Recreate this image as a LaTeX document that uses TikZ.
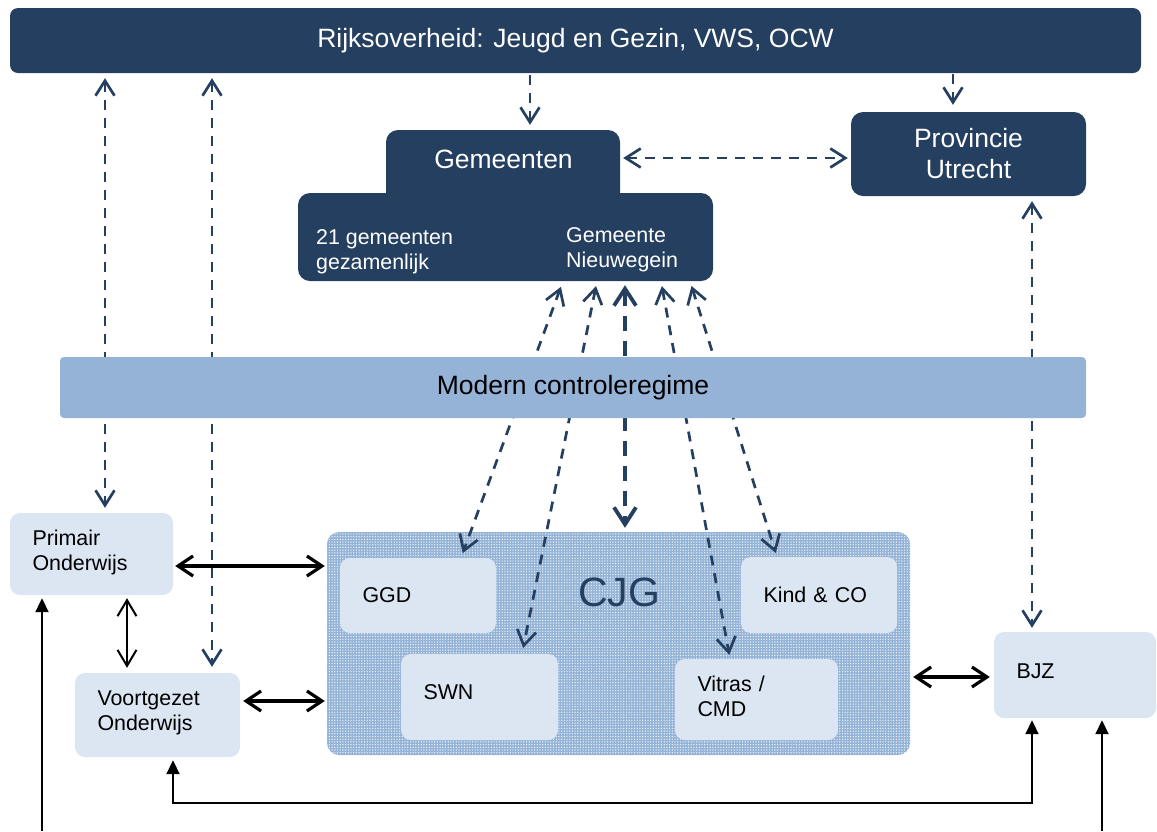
\documentclass[tikz,border=0pt]{standalone}
\usepackage{fontspec}
\setmainfont{Liberation Sans}
\usetikzlibrary{arrows.meta,patterns}
\definecolor{navy}{HTML}{243F60}
\definecolor{midblue}{HTML}{95B3D7}
\definecolor{lightblue}{HTML}{DCE6F2}
\newcommand\bigtxt{\fontsize{26.5}{31}\selectfont}
\newcommand\smalltxt{\fontsize{21.4}{25}\selectfont}
\newcommand\twolines[3]{\raisebox{#3}[\height][\depth]{\begin{tabular}{@{}l@{}}#1\\#2\end{tabular}}}
\pgfdeclarepatternformonly{cjgdots}{\pgfqpoint{-1pt}{-1pt}}{\pgfqpoint{1pt}{1pt}}{\pgfqpoint{2.7pt}{2.7pt}}{\pgfpathcircle{\pgfqpoint{0pt}{0pt}}{0.7pt}\pgfusepath{fill}}
\begin{document}
\begin{tikzpicture}[x=1pt,y=-1pt,
  navybox/.style={fill=navy, text=white, rounded corners=12pt, inner sep=0pt},
  lightbox/.style={fill=lightblue, rounded corners=10pt, inner ysep=0pt, inner xsep=22.5pt, align=left, font=\smalltxt, text=black},
  cjgbox/.style={rounded corners=12pt, inner sep=0pt, preaction={fill=midblue}, pattern=cjgdots, pattern color=white!85!midblue},
  vbarb/.tip={Straight Barb[length=15pt,width=19pt]},
  navydash/.style={draw=navy, line width=2.7pt, dash pattern=on 10pt off 8pt},
  navythick/.style={draw=navy, line width=3.8pt, dash pattern=on 15pt off 10pt},
  blackdbl/.style={draw=black, line width=3.2pt, {Straight Barb[length=15pt,width=20pt]}-{Straight Barb[length=15pt,width=20pt]}},
  blackthin/.style={draw=black, line width=2pt, {Straight Barb[length=16pt,width=19pt]}-{Straight Barb[length=16pt,width=19pt]}},
  solidtri/.style={draw=black, line width=2pt, -{Triangle[length=14pt,width=13pt]}},
  solidtri2/.style={draw=black, line width=2pt, {Triangle[length=14pt,width=13pt]}-{Triangle[length=14pt,width=13pt]}}
]
\useasboundingbox (0,0) rectangle (1157,831);

% boxes
\node[navybox, rounded corners=8pt, minimum width=1131pt, minimum height=65pt, font=\bigtxt] (rijk) at (575.5,40.5) {Rijksoverheid: Jeugd en Gezin, VWS, OCW};
\node[navybox, minimum width=234pt, minimum height=80pt] (gemtop) at (503,170) {};
\node[navybox, minimum width=415pt, minimum height=88pt] (gemlow) at (505.5,237) {};
\node[text=white, font=\bigtxt, inner sep=0pt] (gemtxt) at (503.5,159) {Gemeenten};
\node[text=white, font=\smalltxt, align=left, anchor=west, inner sep=0pt] (gemsamen) at (316,252) {21 gemeenten\\gezamenlijk};
\node[text=white, font=\smalltxt, align=left, anchor=west, inner sep=0pt] (gemnw) at (566,250) {Gemeente\\Nieuwegein};
\node[navybox, minimum width=235pt, minimum height=84pt, font=\bigtxt, align=center] (prov) at (968.5,154) {Provincie\\Utrecht};

\node[cjgbox, minimum width=583pt, minimum height=223pt] (cjg) at (618.5,643.5) {};
\node[text=navy, font=\fontsize{41}{48}\selectfont, inner sep=0pt] (cjglabel) at (619,592) {CJG};

\node[lightbox, text width=118pt, minimum height=82pt] (prim) at (91.5,554) {\twolines{Primair}{Onderwijs}{1pt}};
\node[lightbox, text width=120pt, minimum height=84pt] (voort) at (157.5,715) {\twolines{Voortgezet}{Onderwijs}{2pt}};
\node[lightbox, text width=111pt, minimum height=75pt] (ggd) at (418,595.5) {GGD};
\node[lightbox, text width=112pt, minimum height=86pt, text depth=10pt] (swn) at (479.5,697) {SWN};
\node[lightbox, text width=111pt, minimum height=76pt] (kind) at (819,595) {Kind \& CO};
\node[lightbox, text width=118pt, minimum height=81pt] (vitras) at (756.5,699.5) {\twolines{Vitras /}{CMD}{1pt}};
\node[lightbox, text width=117pt, minimum height=86pt, text depth=8pt] (bjz) at (1075,675) {BJZ};

% helper coordinates
\coordinate (xA) at (105,0);
\coordinate (xB) at (212,0);
\coordinate (xC) at (530,0);
\coordinate (xD) at (953,0);
\coordinate (xE) at (1032,0);
\coordinate (yG) at (0,158);
\coordinate (yP) at (0,566);
\coordinate (yV) at (0,701);
\coordinate (yB) at (0,677);
\coordinate (xPV) at (127,0);
\coordinate (xV2) at (173,0);
\coordinate (yLow) at (0,803);
\coordinate (botL) at (42,831);
\coordinate (botR) at (1102,831);

% dashed navy connectors
\draw[navydash, {vbarb}-{vbarb}, shorten <=5pt, shorten >=5pt] (rijk.south -| xA) -- (prim.north -| xA);
\draw[navydash, {vbarb}-{vbarb}, shorten <=5pt, shorten >=6pt] (rijk.south -| xB) -- (voort.north -| xB);
\draw[navydash, -{vbarb}, shorten <=2pt, shorten >=5pt] (rijk.south -| xC) -- (gemtop.north -| xC);
\draw[navydash, -{vbarb}, shorten <=1pt, shorten >=7pt] (rijk.south -| xD) -- (prov.north -| xD);
\draw[navydash, {vbarb}-{vbarb}, shorten <=3pt, shorten >=3pt] (gemtop.east |- yG) -- (prov.west |- yG);
\draw[navydash, {vbarb}-{vbarb}, shorten <=5pt, shorten >=4pt] (prov.south -| xE) -- (bjz.north -| xE);

\draw[navydash, {vbarb}-{vbarb}, shorten <=6pt, shorten >=5pt] ([xshift=57.5pt]gemlow.south) -- ([xshift=43pt]ggd.north);
\draw[navydash, {vbarb}-{vbarb}, shorten <=5pt, shorten >=6pt] ([xshift=91.5pt]gemlow.south) -- ([xshift=42.5pt]swn.north);
\draw[navythick, {Straight Barb[length=17pt,width=22pt]}-{Straight Barb[length=17pt,width=22pt]}, shorten <=4pt, shorten >=4pt] ([xshift=119.5pt]gemlow.south) -- ([xshift=6.5pt]cjg.north);
\draw[navydash, {vbarb}-{vbarb}, shorten <=5pt, shorten >=4pt] ([xshift=155.5pt]gemlow.south) -- ([xshift=-26.5pt]vitras.north);
\draw[navydash, {vbarb}-{vbarb}, shorten <=5pt, shorten >=4pt] ([xshift=184.5pt]gemlow.south) -- ([xshift=-42pt]kind.north);

% bar drawn over the dashed lines
\node[fill=midblue, rounded corners=4pt, minimum width=1026pt, minimum height=61pt, font=\bigtxt, inner sep=0pt] (mcr) at (573,387.5) {Modern controleregime};

% black connectors
\draw[blackdbl, shorten <=2pt, shorten >=2pt] (prim.east |- yP) -- (cjg.west |- yP);
\draw[blackdbl, shorten <=3pt, shorten >=2pt] (voort.east |- yV) -- (cjg.west |- yV);
\draw[blackthin, shorten <=3pt, shorten >=5pt] (prim.south -| xPV) -- (voort.north -| xPV);
\draw[blackdbl, shorten <=3pt, shorten >=4pt] (cjg.east |- yB) -- (bjz.west |- yB);
\draw[solidtri, shorten >=3pt] (botL) -- (prim.south -| botL);
\draw[solidtri, shorten >=2pt] (botR) -- (bjz.south -| botR);
\draw[solidtri2, shorten <=3pt, shorten >=2pt] (voort.south -| xV2) -- (xV2 |- yLow) -- (xE |- yLow) -- (bjz.south -| xE);
\end{tikzpicture}
\end{document}
